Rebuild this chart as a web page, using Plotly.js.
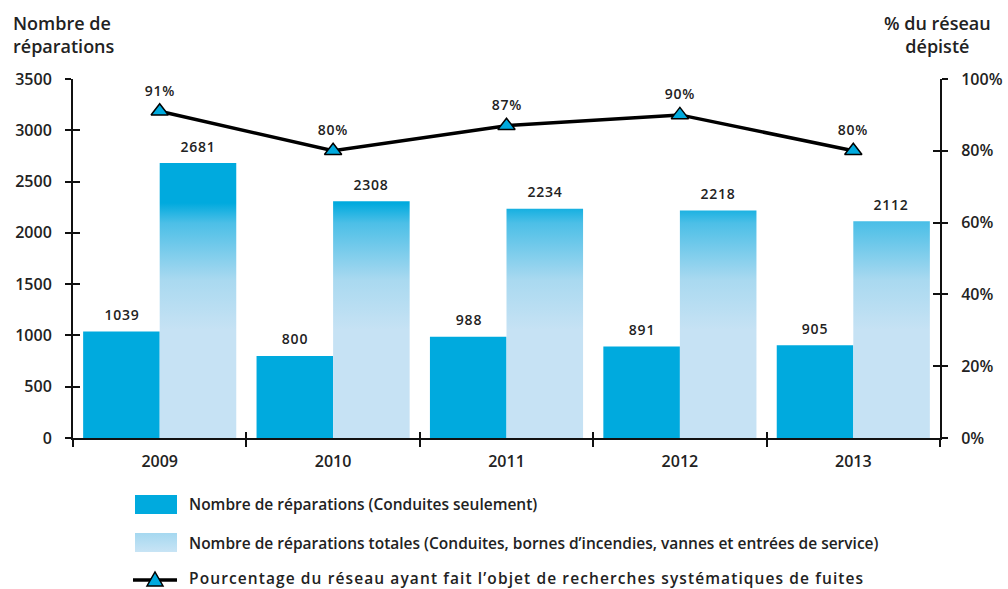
<!DOCTYPE html>
<html><head><meta charset="utf-8">
<script src="https://cdn.plot.ly/plotly-3.0.1.min.js"></script>
<style>html,body{margin:0;padding:0;background:#fff}#chart{width:1008px;height:589px}</style>
</head><body><div id="chart"></div>
<script>
const years = ['2009', '2010', '2011', '2012', '2013'];
const conduites = [1039, 800, 988, 891, 905];
const totales = [2681, 2308, 2234, 2218, 2112];
const pourcentage = [91, 80, 87, 90, 80];
const leftTicks = [0, 500, 1000, 1500, 2000, 2500, 3000, 3500];
const rightTicks = [0, 20, 40, 60, 80, 100];
const rightTickText = ['0%', '20%', '40%', '60%', '80%', '100%'];
const legendLabels = [
  'Nombre de réparations (Conduites seulement)',
  "Nombre de réparations totales (Conduites, bornes d’incendies, vannes et entrées de service)",
  "Pourcentage du réseau ayant fait l’objet de recherches systématiques de fuites"
];

const W = 1008, H = 589, M = {l: 73, r: 68, t: 79, b: 151};
const PW = W - M.l - M.r, PH = H - M.t - M.b;
const px = v => (v - M.l) / PW;
const py = v => (H - M.b - v) / PH;

const FONT = 'Open Sans, Lato, sans-serif';
const DARK = '#00aade';
const LIGHT = '#c6e2f4';

const traces = [
  {type: 'bar', x: years, y: conduites, name: legendLabels[0], marker: {color: DARK}, hoverinfo: 'none'},
  {type: 'bar', x: years, y: totales, name: legendLabels[1], marker: {color: LIGHT}, hoverinfo: 'none'},
  {type: 'scatter', mode: 'lines+markers', x: years, y: pourcentage, yaxis: 'y2', name: legendLabels[2],
   line: {color: '#000', width: 3.5},
   marker: {symbol: 'triangle-up', size: 15, color: DARK, line: {color: '#000', width: 1.5}}, hoverinfo: 'none'},
  {type: 'scatter', x: [], y: [], yaxis: 'y3', showlegend: false},
  {type: 'scatter', x: [], y: [], yaxis: 'y4', showlegend: false},
  {type: 'scatter', x: [], y: [], xaxis: 'x2', showlegend: false}
];

const valFont = {family: FONT, size: 14, color: '#222', weight: 600};
const annotations = [];
years.forEach((yr, i) => {
  annotations.push({x: i, y: conduites[i], xref: 'x', yref: 'y', text: String(conduites[i]), showarrow: false,
    xshift: -38, yshift: 17, font: valFont, width: 50});
  annotations.push({x: i, y: totales[i], xref: 'x', yref: 'y', text: String(totales[i]), showarrow: false,
    xshift: 38, yshift: 17, font: valFont, width: 50});
  annotations.push({x: i, y: pourcentage[i], xref: 'x', yref: 'y2', text: pourcentage[i] + '%', showarrow: false,
    yshift: 21, font: valFont, width: 50});
});
annotations.push({xref: 'paper', yref: 'paper', x: px(11), y: py(9), xanchor: 'left', yanchor: 'top', align: 'left',
  text: 'Nombre de<br>réparations', showarrow: false, font: {family: FONT, size: 18, color: '#222', weight: 600}});
annotations.push({xref: 'paper', yref: 'paper', x: px(937), y: py(9), xanchor: 'center', yanchor: 'top', align: 'center',
  text: '% du réseau<br>dépisté', showarrow: false, font: {family: FONT, size: 18, color: '#222', weight: 600}});
const legendY = [504, 543, 578];
legendLabels.forEach((t, i) => {
  annotations.push({xref: 'paper', yref: 'paper', x: px(187), y: py(legendY[i]), xanchor: 'left', yanchor: 'middle',
    align: 'left', width: 700, text: t, showarrow: false, font: {family: FONT, size: 15.5, color: '#222', weight: 600}});
});

const tri = (cx, cy) => `M${px(cx-8)},${py(cy+6)} L${px(cx+8)},${py(cy+6)} L${px(cx)},${py(cy-8)} Z`;
const shapes = [
  {type: 'rect', xref: 'paper', yref: 'paper', x0: px(135), x1: px(177), y0: py(495), y1: py(514), fillcolor: DARK, line: {width: 0}},
  {type: 'rect', xref: 'paper', yref: 'paper', x0: px(135), x1: px(177), y0: py(533), y1: py(552), fillcolor: LIGHT, line: {width: 0}},
  {type: 'line', xref: 'paper', yref: 'paper', x0: px(133), x1: px(177), y0: py(580), y1: py(580), line: {color: '#000', width: 3.5}},
  {type: 'path', xref: 'paper', yref: 'paper', path: tri(155, 580), fillcolor: DARK, line: {color: '#000', width: 1.5}}
];

const axFont = {family: FONT, size: 16, color: '#222', weight: 600};
const layout = {
  width: W, height: H, margin: M, paper_bgcolor: '#fff', plot_bgcolor: '#fff',
  showlegend: false, barmode: 'group', bargap: 0.117, bargroupgap: 0,
  xaxis: {type: 'category', showline: true, linecolor: '#111', linewidth: 2, ticks: 'outside', tickson: 'boundaries',
    ticklen: 7, tickwidth: 2, tickcolor: '#111', showgrid: false, zeroline: false,
    tickfont: {family: FONT, size: 16, color: '#222', weight: 600}, ticklabelstandoff: 8, range: [-0.5, 4.5]},
  xaxis2: {overlaying: 'x', anchor: 'y', type: 'linear', range: [-0.5, 4.5], tickvals: [-0.5, 0.5, 1.5, 2.5, 3.5, 4.5],
    ticks: 'inside', ticklen: 6, tickwidth: 2, tickcolor: '#111', showticklabels: false, showline: false, showgrid: false, zeroline: false},
  yaxis: {range: [0, 3500], tickvals: leftTicks, showline: true, linecolor: '#111', linewidth: 2, ticks: 'outside',
    ticklen: 6, tickwidth: 2, tickcolor: '#111', showgrid: false, zeroline: false, tickfont: axFont, ticklabelstandoff: 10},
  yaxis3: {overlaying: 'y', side: 'left', anchor: 'x', range: [0, 3500], tickvals: leftTicks, ticks: 'inside', ticklen: 7,
    tickwidth: 2, tickcolor: '#111', showticklabels: false, showline: false, showgrid: false, zeroline: false},
  yaxis2: {overlaying: 'y', side: 'right', anchor: 'x', range: [0, 100], tickvals: rightTicks, ticktext: rightTickText,
    showline: true, linecolor: '#111', linewidth: 2, ticks: 'outside', ticklen: 6, tickwidth: 2, tickcolor: '#111',
    showgrid: false, zeroline: false, tickfont: axFont, ticklabelstandoff: 10},
  yaxis4: {overlaying: 'y', side: 'right', anchor: 'x', range: [0, 100], tickvals: rightTicks, ticks: 'inside', ticklen: 7,
    tickwidth: 2, tickcolor: '#111', showticklabels: false, showline: false, showgrid: false, zeroline: false},
  annotations: annotations, shapes: shapes
};

const gd = document.getElementById('chart');
Plotly.newPlot(gd, traces, layout, {staticPlot: true}).then(() => {
  const svg = gd.querySelector('.main-svg');
  const NS = 'http://www.w3.org/2000/svg';
  let defs = svg.querySelector('defs');
  if (!defs) { defs = document.createElementNS(NS, 'defs'); svg.insertBefore(defs, svg.firstChild); }
  const ya = gd._fullLayout.yaxis;
  const stops = [[2291, '#00aade'], [2096, '#4cbfe7'], [1540, '#a9d9f0'], [1053, '#c6e2f4']];
  const y1 = ya.l2p(stops[0][0]), y2 = ya.l2p(stops[stops.length - 1][0]);
  const g = document.createElementNS(NS, 'linearGradient');
  g.setAttribute('id', 'barGrad'); g.setAttribute('gradientUnits', 'userSpaceOnUse');
  g.setAttribute('x1', 0); g.setAttribute('x2', 0); g.setAttribute('y1', y1); g.setAttribute('y2', y2);
  stops.forEach(([v, c]) => {
    const s = document.createElementNS(NS, 'stop');
    s.setAttribute('offset', (ya.l2p(v) - y1) / (y2 - y1)); s.setAttribute('stop-color', c); g.appendChild(s);
  });
  defs.appendChild(g);
  const g2 = document.createElementNS(NS, 'linearGradient');
  g2.setAttribute('id', 'legGrad'); g2.setAttribute('x1', 0); g2.setAttribute('x2', 0); g2.setAttribute('y1', 0); g2.setAttribute('y2', 1);
  [[0, '#a5d8f0'], [1, '#c8e4f5']].forEach(([o, c]) => {
    const s = document.createElementNS(NS, 'stop'); s.setAttribute('offset', o); s.setAttribute('stop-color', c); g2.appendChild(s);
  });
  defs.appendChild(g2);
  const barTraces = gd.querySelectorAll('.barlayer .trace');
  if (barTraces[1]) barTraces[1].querySelectorAll('path').forEach(p => { p.style.fill = 'url(#barGrad)'; });
  const shp = gd.querySelectorAll('.shapelayer path');
  if (shp[1]) shp[1].style.fill = 'url(#legGrad)';
  gd.querySelectorAll('.annotation-text').forEach(t => {
    const s = t.textContent;
    let ls = null;
    if (s.indexOf('Pourcentage') === 0) ls = 1.1;
    else if (/^\d+%?$/.test(s)) ls = 0.8;
    if (ls === null) return;
    const before = t.getBBox();
    t.style.letterSpacing = ls + 'px';
    const after = t.getBBox();
    let dx = (before.x - after.x);
    if (s.indexOf('Pourcentage') !== 0) dx = (before.x + before.width / 2) - (after.x + after.width / 2);
    const x0 = parseFloat(t.getAttribute('x')) || 0;
    t.setAttribute('x', x0 + dx);
  });
});
</script></body></html>
